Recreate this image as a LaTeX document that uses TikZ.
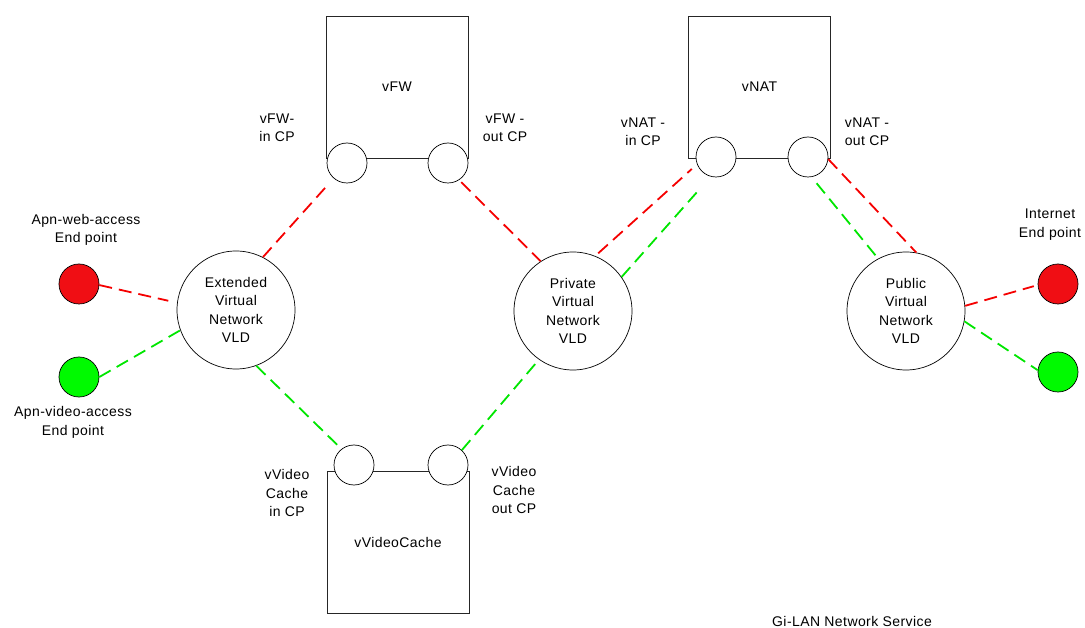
\documentclass[tikz,border=0pt]{standalone}
\usepackage{fontspec}
\setmainfont{Liberation Sans}[LetterSpace=3]
\definecolor{epred}{RGB}{240,14,20}
\definecolor{epgreen}{RGB}{0,250,0}
\definecolor{lnred}{RGB}{245,0,0}
\definecolor{lngreen}{RGB}{0,230,0}
\begin{document}
\begin{tikzpicture}[x=1pt,y=-1pt,
  lbl/.style={font=\fontsize{14}{18.3}\selectfont, align=center, inner sep=0pt},
  vbox/.style={draw=black!85, line width=0.8pt, minimum width=142pt, minimum height=142pt, inner sep=0pt, font=\fontsize{14}{18.3}\selectfont},
  cp/.style={circle, draw, fill=white, minimum size=40pt, inner sep=0pt, line width=0.7pt},
  vld/.style={circle, draw, fill=white, minimum size=118pt, inner sep=0pt, line width=0.7pt, align=center, font=\fontsize{14}{18.3}\selectfont},
  ep/.style={circle, draw, minimum size=40pt, inner sep=0pt, line width=0.7pt},
  rl/.style={draw=lnred, line width=1.8pt, dash pattern=on 13pt off 7pt},
  gl/.style={draw=lngreen, line width=1.8pt, dash pattern=on 13pt off 7pt}]
\useasboundingbox (0,0) rectangle (1085,628);

% VNF boxes
\node[vbox] (fw) at (397,87) {vFW};
\node[vbox] (nat) at (759.5,87) {vNAT};
\node[vbox] (vc) at (398,542.5) {vVideoCache};

% connection points
\node[cp] (fwin) at (347,163) {};
\node[cp] (fwout) at (448,163) {};
\node[cp] (natin) at (716,157) {};
\node[cp] (natout) at (808,157) {};
\node[cp] (vcin) at (354,465) {};
\node[cp] (vcout) at (448,465) {};

% VLDs
\node[vld] (ext) at (236,310) {Extended\\Virtual\\Network\\VLD};
\node[vld] (priv) at (573,311) {Private\\Virtual\\Network\\VLD};
\node[vld] (pub) at (906,311) {Public\\Virtual\\Network\\VLD};

% end points
\node[ep, fill=epred] (web) at (79,284) {};
\node[ep, fill=epgreen] (video) at (79,377) {};
\node[ep, fill=epred] (inred) at (1058,284) {};
\node[ep, fill=epgreen] (ingreen) at (1058,372) {};

% labels
\node[lbl] (lweb) at (86,230) {Apn-web-access\\End point};
\node[lbl] (lvideo) at (73,422.5) {Apn-video-access\\End point};
\node[lbl] (linet) at (1050,224.5) {Internet\\End point};
\node[lbl] (lfwin) at (277,128) {vFW-\\in CP};
\node[lbl] (lfwout) at (505,128) {vFW -\\out CP};
\node[lbl] (lnatin) at (643,132) {vNAT -\\in CP};
\node[lbl] (lnatout) at (867,132) {vNAT -\\out CP};
\node[lbl] (lvcin) at (287,493) {vVideo\\Cache\\in CP};
\node[lbl] (lvcout) at (514,490) {vVideo\\Cache\\out CP};
\node[lbl] (title) at (852,621) {Gi-LAN Network Service};

% connectors
\draw[rl, shorten >=9pt] (web.-3) -- (ext.173);
\draw[gl] (video.0) -- (ext.200);
\draw[rl, shorten >=9pt] (ext.63) -- (fwin.229);
\draw[rl, shorten <=3pt] (fwout.-57) -- (priv.123);
\draw[gl] (ext.-70) -- (vcin.128);
\draw[gl] (vcout.47) -- (priv.235);
\draw[rl, shorten <=4pt, shorten >=7pt] (priv.68) -- (natin.201);
\draw[gl, shorten >=16pt] (priv.35) -- (natin.255);
\draw[rl] (natout.-6) -- (pub.80);
\draw[gl, shorten <=8pt] (natout.-80) -- (pub.118);
\draw[rl, shorten >=4pt] (pub.5) -- (inred.183);
\draw[gl] (pub.-10) -- (ingreen.175);
\end{tikzpicture}
\end{document}
